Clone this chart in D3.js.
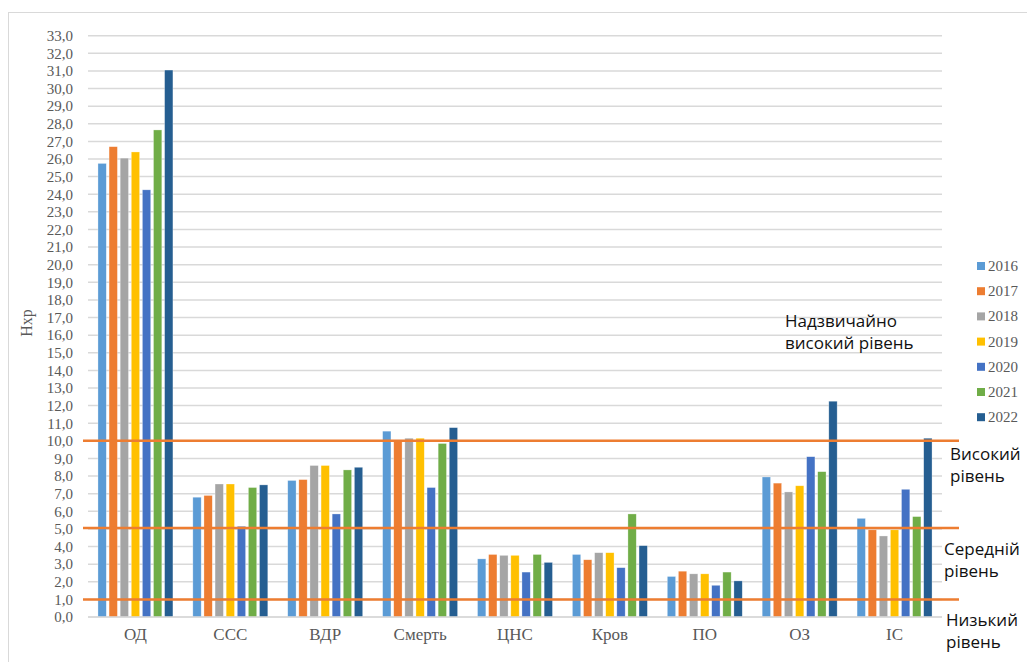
<!DOCTYPE html>
<html lang="en">
<head>
  <meta charset="utf-8">
  <script src="https://cdn.jsdelivr.net/npm/d3@7"></script>
  <style>
    body{margin:0;background:#fff;}
  </style>
</head>
<body>
<div id="chart"></div>
<script>
  var categories=["ОД","ССС","ВДР","Смерть","ЦНС","Кров","ПО","ОЗ","ІС"];
  var years=["2016","2017","2018","2019","2020","2021","2022"];
  var colors=["#5B9BD5","#ED7D31","#A5A5A5","#FFC000","#4472C4","#70AD47","#255E91"];

  // values per year, in category order
  var v2016=[25.75,6.8,7.75,10.55,3.3,3.55,2.3,7.95,5.6];
  var v2017=[26.7,6.9,7.8,10.0,3.55,3.25,2.6,7.6,4.95];
  var v2018=[26.05,7.55,8.6,10.15,3.5,3.65,2.45,7.1,4.6];
  var v2019=[26.4,7.55,8.6,10.15,3.5,3.65,2.45,7.45,4.95];
  var v2020=[24.25,5.15,5.85,7.35,2.55,2.8,1.8,9.1,7.25];
  var v2021=[27.65,7.35,8.35,9.85,3.55,5.85,2.55,8.25,5.7];
  var v2022=[31.05,7.5,8.5,10.75,3.1,4.05,2.05,12.25,10.15];
  var series=[v2016,v2017,v2018,v2019,v2020,v2021,v2022];

  var yTicks=d3.range(0,34,1);
  var levels=[10.0,5.05,1.0];
  var levelLabels=[
    {text:["Надзвичайно","високий рівень"],x:785,y:327},
    {text:["Високий","рівень"],x:950,y:460},
    {text:["Середній","рівень"],x:944,y:555},
    {text:["Низький","рівень"],x:946,y:626}
  ];

  var width=1027,height=662;
  var serif="'Liberation Serif','Times New Roman',serif";
  var svg=d3.select("#chart").append("svg")
    .attr("width",width).attr("height",height);

  // frame
  svg.append("rect")
    .attr("x",8.5).attr("y",12.5)
    .attr("width",1030).attr("height",700)
    .attr("fill","none").attr("stroke","#d9d9d9").attr("stroke-width",1);

  var plotLeft=88,plotRight=942,plotTop=35.7,plotBottom=617;

  var y=d3.scaleLinear().domain([0,33]).range([plotBottom,plotTop]);
  var x0=d3.scaleBand().domain(categories).range([plotLeft,plotRight])
    .paddingInner(0.21).paddingOuter(0.105);
  var x1=d3.scaleBand().domain(years).range([0,x0.bandwidth()])
    .paddingInner(0.25).paddingOuter(0);

  // gridlines
  svg.append("g").selectAll("line")
    .data(yTicks).enter().append("line")
    .attr("x1",plotLeft).attr("x2",plotRight)
    .attr("y1",function(d){return y(d);}).attr("y2",function(d){return y(d);})
    .attr("stroke","#d9d9d9").attr("stroke-width",1.5);

  // y axis labels
  var yAxis=d3.axisLeft(y).tickValues(yTicks).tickSize(0).tickPadding(0)
    .tickFormat(function(d){return d3.format(".1f")(d).replace(".",",");});
  var ya=svg.append("g").attr("transform","translate(73,0)").call(yAxis);
  ya.select(".domain").remove();
  ya.attr("font-family",null);
  ya.selectAll("text").attr("fill","#595959")
    .style("font-family",serif).style("font-size","15px");

  // bars
  var groups=svg.append("g").selectAll("g")
    .data(categories).enter().append("g")
    .attr("transform",function(d){return "translate("+x0(d)+",0)";});
  groups.selectAll("rect")
    .data(function(c,ci){return years.map(function(yr,yi){return {year:yr,i:yi,v:series[yi][ci]};});})
    .enter().append("rect")
    .attr("x",function(d){return x1(d.year);})
    .attr("width",x1.bandwidth())
    .attr("y",function(d){return y(d.v);})
    .attr("height",function(d){return plotBottom-y(d.v);})
    .attr("fill",function(d){return colors[d.i];})
    .attr("stroke","#ffffff").attr("stroke-opacity",0.5).attr("stroke-width",0.6);

  // baseline
  svg.append("line").attr("x1",plotLeft).attr("x2",plotRight)
    .attr("y1",plotBottom).attr("y2",plotBottom)
    .attr("stroke","#d9d9d9").attr("stroke-width",1.5);

  // x axis labels
  var xAxis=d3.axisBottom(x0).tickSize(0).tickPadding(0);
  var xa=svg.append("g").attr("transform","translate(0,"+(plotBottom+11)+")").call(xAxis);
  xa.select(".domain").remove();
  xa.attr("font-family",null);
  xa.selectAll("text").attr("fill","#595959")
    .style("font-family",serif).style("font-size","17px");

  // level lines
  svg.append("g").selectAll("line")
    .data(levels).enter().append("line")
    .attr("x1",83).attr("x2",959)
    .attr("y1",function(d){return y(d);}).attr("y2",function(d){return y(d);})
    .attr("stroke","#ED7D31").attr("stroke-width",2.5);

  // level labels
  levelLabels.forEach(function(l){
    var t=svg.append("text").attr("x",l.x).attr("y",l.y)
      .style("font-family","'Open Sans','DejaVu Sans',sans-serif")
      .style("font-size","17px").attr("fill","#111");
    l.text.forEach(function(s,i){
      t.append("tspan").attr("x",l.x).attr("dy",i==0?0:22).text(s);
    });
  });

  // y label
  svg.append("text")
    .attr("transform","translate(32,323) rotate(-90)")
    .attr("text-anchor","middle")
    .style("font-family",serif)
    .style("font-size","16px").attr("fill","#595959")
    .text("Нхр");

  // legend
  var legend=svg.append("g").selectAll("g")
    .data(years).enter().append("g")
    .attr("transform",function(d,i){return "translate(977,"+(266+i*25.2)+")";});
  legend.append("rect")
    .attr("x",0).attr("y",-4).attr("width",8).attr("height",8)
    .attr("fill",function(d,i){return colors[i];});
  legend.append("text")
    .attr("x",11).attr("y",5)
    .style("font-family",serif)
    .style("font-size","15px").attr("fill","#595959")
    .text(function(d){return d;});
</script>
</body>
</html>
